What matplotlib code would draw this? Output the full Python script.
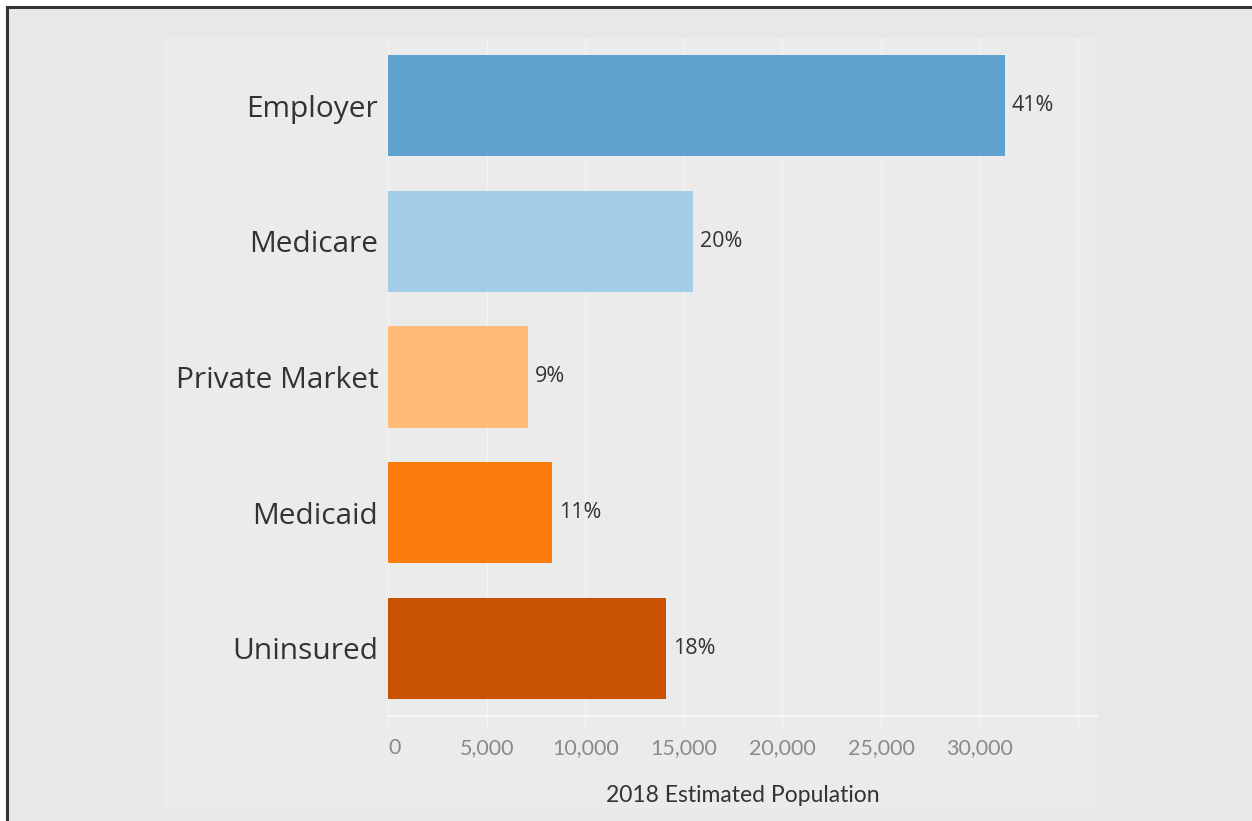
import matplotlib
matplotlib.use("Agg")
import matplotlib.pyplot as plt
from matplotlib.patches import Rectangle
from matplotlib.lines import Line2D

# data
categories = ["Employer", "Medicare", "Private Market", "Medicaid", "Uninsured"]
population = [31290, 15470, 7100, 8320, 14100]
shares = ["41%", "20%", "9%", "11%", "18%"]
bar_colors = ["#5fa2ce", "#a3cce9", "#ffbc79", "#fc7d0b", "#c85200"]
tick_values = [0, 5000, 10000, 15000, 20000, 25000, 30000, 35000]
tick_labels = ["0", "5,000", "10,000", "15,000", "20,000", "25,000", "30,000", ""]

W, H = 1252, 821
fig = plt.figure(figsize=(W / 100, H / 100), dpi=100)
fig.patch.set_facecolor("white")

def box(x0, y0, x1, y1):
    # pixel box (top-left origin) -> figure fraction
    return [x0 / W, 1 - y1 / H, (x1 - x0) / W, (y1 - y0) / H]

# outer grey area with the dark frame on top/left
fig.patches.append(Rectangle((7 / W, 0), 1, 1 - 7 / H, transform=fig.transFigure,
                             facecolor="#e8e8e8", edgecolor="none", zorder=-2))
fig.add_artist(Line2D([7 / W, 7 / W], [0, 1 - 7 / H], transform=fig.transFigure,
                      color="#333333", lw=2.2))
fig.add_artist(Line2D([7 / W, 1], [1 - 7 / H, 1 - 7 / H], transform=fig.transFigure,
                      color="#333333", lw=2.2))
# lighter inner panel
x0, y0, ww, hh = box(163, 38, 1097, 808)
fig.patches.append(Rectangle((x0, y0), ww, hh, transform=fig.transFigure,
                             facecolor="#ebebeb", edgecolor="none", zorder=-1))

ax = fig.add_axes(box(388, 38, 1097, 716))
ax.set_zorder(2)
ax.set_facecolor("none")

ypos = list(range(len(categories)))
ax.barh(ypos, population, height=0.745, color=bar_colors, zorder=3)
for y, v, s in zip(ypos, population, shares):
    ax.text(v + 350, y, s, va="center", ha="left", fontsize=15.5,
            family="Open Sans", color="#333333", zorder=4)

ax.set_ylim(len(categories) - 0.5, -0.5)
ax.set_xlim(0, 35950)
ax.set_yticks(ypos)
ax.set_yticklabels(categories, fontsize=21.5, family="Open Sans", color="#333333")
ax.tick_params(axis="y", length=0, pad=7)

ax.set_xticks(tick_values)
ax.set_xticklabels(tick_labels, fontsize=15.5, family="Lato", color="#8a8a8a")
ax.tick_params(axis="x", length=7, color="#f7f7f7", width=1, pad=9)
ax.get_xticklabels()[0].set_ha("left")
ax.grid(axis="x", color="#f4f4f4", lw=1, zorder=1)

for side in ["top", "right", "left"]:
    ax.spines[side].set_visible(False)
ax.spines["bottom"].set_color("#f7f7f7")
ax.spines["bottom"].set_linewidth(1.5)

ax.set_xlabel("2018 Estimated Population", fontsize=16.5, family="Lato",
              color="#333333", labelpad=19)

fig.savefig("out.png", dpi=100, facecolor=fig.get_facecolor())
